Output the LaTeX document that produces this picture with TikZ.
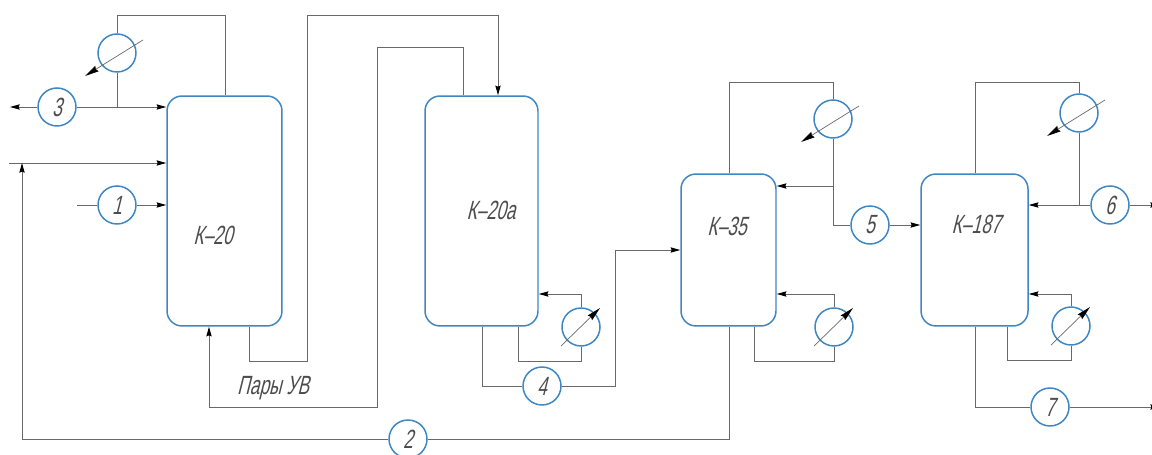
\documentclass[tikz,border=0pt]{standalone}
\usepackage{fontspec}
\usepackage{xcolor}
\usepackage{tikz}
\usetikzlibrary{calc}
\usetikzlibrary{arrows.meta}
\newfontfamily\gostfont[FakeSlant=.25,FakeStretch=.66]{Liberation Sans}
\definecolor{gostblue}{RGB}{62,135,196}
\definecolor{pipegray}{RGB}{105,105,105}
\tikzset{
  vessel/.style={draw=gostblue, line width=.85pt, rounded corners=.3cm, inner sep=0pt},
  stream/.style={draw=gostblue, line width=.85pt, circle, minimum size=.76cm, inner sep=0pt, font=\gostfont\fontsize{15}{17}\selectfont, text=black!70},
  cooler/.style={draw=gostblue, line width=.85pt, circle, minimum size=.76cm, inner sep=0pt},
  caption/.style={inner sep=0pt, font=\gostfont\fontsize{15}{17}\selectfont, text=black!70},
  pipe/.style={draw=pipegray, line width=.55pt},
  flow/.style={pipe, -{Stealth[length=5.5pt,width=3pt,inset=.6pt,black]}},
  knob/.style={draw=pipegray, line width=.4pt, -{Stealth[length=8pt,width=3.6pt,inset=.8pt,black]}}
}

\begin{document}
\begin{tikzpicture}[x=.02cm, y=-.02cm]
\useasboundingbox (0,0) rectangle (1152,455);

\node[vessel, minimum width=2.3cm, minimum height=4.6cm] (k20) at (224.5,211) {};
\node[vessel, minimum width=2.26cm, minimum height=4.6cm] (k20a) at (481.5,211) {};
\node[vessel, minimum width=1.9cm, minimum height=3.04cm] (k35) at (728.5,250) {};
\node[vessel, minimum width=2.14cm, minimum height=3.04cm] (k187) at (974.5,250) {};

\node[caption] (l20) at (213,235) {К–20};
\node[caption] (l20a) at (491,210) {К–20а};
\node[caption] (l35) at (727,226) {К–35};
\node[caption] (l187) at (976,224) {К–187};
\node[caption] (vapor) at (273,388) {Пары УВ};

\node[stream] (s1) at (117,205) {1};
\node[stream] (s2) at (408,439) {2};
\node[stream] (s3) at (57,107) {3};
\node[stream] (s4) at (542,386) {4};
\node[stream] (s5) at (870,225) {5};
\node[stream] (s6) at (1110,205) {6};
\node[stream] (s7) at (1050,407) {7};

\node[cooler] (c20) at (117,53) {};
\node[cooler] (c20a) at (581,327) {};
\node[cooler] (c35t) at (833,119) {};
\node[cooler] (c35b) at (834,327) {};
\node[cooler] (c187t) at (1079,113) {};
\node[cooler] (c187b) at (1071,326) {};

\foreach \n in {c20,c35t,c187t}
  \draw[knob] ([shift={(26,-13)}]\n.center) -- ([shift={(-32,23)}]\n.center);
\foreach \n in {c20a,c35b,c187b}
  \draw[knob] ([shift={(-20,19)}]\n.center) -- ([shift={(19,-19)}]\n.center);

% K-20
\coordinate (a1) at (225,15);
\coordinate (a2) at (117,107);
\coordinate (a3) at (10,107);
\coordinate (a4) at (9,163);
\coordinate (a5) at (22,163);
\coordinate (a6) at (77,205);
\draw[pipe] (c20.north) |- (a1) -- (a1 |- k20.north);
\draw[pipe] (c20.south) -- (a2);
\draw[flow] (s3.east) -- (s3.east -| k20.west);
\draw[flow] (s3.west) -- (a3);
\draw[flow] (a4) -- (a4 -| k20.west);
\draw[pipe] (a6) -- (s1.west);
\draw[flow] (s1.east) -- (s1.east -| k20.west);

% K-20 to K-20a
\coordinate (b1) at (249,361);
\coordinate (b2) at (307,15);
\coordinate (b3) at (498,15);
\coordinate (b4) at (463,47);
\coordinate (b5) at (377,407);
\coordinate (b6) at (209,407);
\draw[pipe] (b1 |- k20.south) -- (b1) -| (b2) -- (b3);
\draw[flow] (b3) -- (b3 |- k20a.north);
\draw[pipe] (b4 |- k20a.north) -- (b4) -| (b5) -- (b6);
\draw[flow] (b6) -- (b6 |- k20.south);

% K-20a
\coordinate (d1) at (581,294);
\coordinate (d2) at (518,361);
\coordinate (d3) at (482,386);
\coordinate (d4) at (615,250);
\draw[pipe] (c20a.north) -- (d1);
\draw[flow] (d1) -- (d1 -| k20a.east);
\draw[pipe] (c20a.south) |- (d2) -- (d2 |- k20a.south);
\draw[pipe] (d3 |- k20a.south) -- (d3) -- (s4.west);
\draw[pipe] (s4.east) -| (d4);
\draw[flow] (d4) -- (d4 -| k35.west);

% K-35
\coordinate (e1) at (729,82);
\coordinate (e2) at (833,186);
\coordinate (e3) at (833,225);
\coordinate (e4) at (834,294);
\coordinate (e5) at (754,361);
\coordinate (e6) at (729,439);
\coordinate (e7) at (22,439);
\draw[pipe] (e1 |- k35.north) -- (e1) -| (c35t.north);
\draw[pipe] (c35t.south) -- (e3) -- (s5.west);
\draw[flow] (e2) -- (e2 -| k35.east);
\draw[flow] (s5.east) -- (s5.east -| k187.west);
\draw[pipe] (c35b.north) -- (e4);
\draw[flow] (e4) -- (e4 -| k35.east);
\draw[pipe] (c35b.south) |- (e5) -- (e5 |- k35.south);
\draw[pipe] (e6 |- k35.south) -- (e6) -- (s2.east);
\draw[pipe] (s2.west) -- (e7);
\draw[flow] (e7) -- (a5);

% K-187
\coordinate (f1) at (975,82);
\coordinate (f2) at (1079,205);
\coordinate (f3) at (1160,205);
\coordinate (f4) at (1071,294);
\coordinate (f5) at (1007,360);
\coordinate (f6) at (975,407);
\coordinate (f7) at (1160,407);
\draw[pipe] (f1 |- k187.north) -- (f1) -| (c187t.north);
\draw[pipe] (c187t.south) -- (f2);
\draw[flow] (s6.west) -- (s6.west -| k187.east);
\draw[flow] (s6.east) -- (f3);
\draw[pipe] (c187b.north) -- (f4);
\draw[flow] (f4) -- (f4 -| k187.east);
\draw[pipe] (c187b.south) |- (f5) -- (f5 |- k187.south);
\draw[pipe] (f6 |- k187.south) -- (f6) -- (s7.west);
\draw[flow] (s7.east) -- (f7);
\end{tikzpicture}
\end{document}
